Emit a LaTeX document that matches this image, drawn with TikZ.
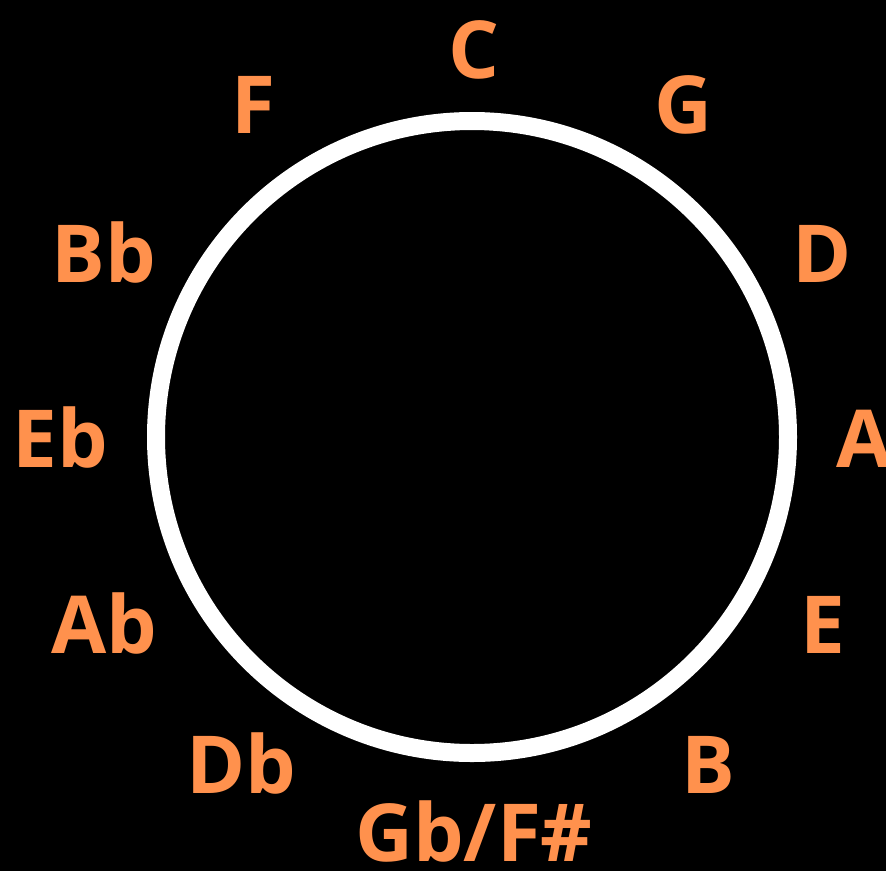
\documentclass[tikz,border=0pt]{standalone}
\usepackage{fontspec}
\setmainfont{Open Sans}
\definecolor{noteorange}{HTML}{FF914D}
\begin{document}
\begin{tikzpicture}[x=1pt,y=-1pt,
  note/.style={anchor=base,inner sep=0pt,text=noteorange,font=\fontsize{80}{88}\selectfont\bfseries}]
\fill[black] (0,0) rectangle (886,871);
\useasboundingbox (0,0) rectangle (886,871);
\draw[white,line width=18pt] (472,437) circle[radius=316];
\begin{scope}
\clip (0,0) rectangle (886,871);
\node[note] (c) at (474,78) {C};
\node[note] (g) at (683,133) {G};
\node[note] (d) at (822,282) {D};
\node[note] (a) at (864,467) {A};
\node[note] (e) at (823,653) {E};
\node[note] (b) at (708,793) {B};
\node[note] (gb) at (474,861) {Gb/F\#};
\node[note] (db) at (241,793) {Db};
\node[note] (ab) at (104,653) {Ab};
\node[note] (eb) at (60,467) {Eb};
\node[note] (bb) at (104,282) {Bb};
\node[note] (f) at (253,133) {F};
\end{scope}
\end{tikzpicture}
\end{document}
